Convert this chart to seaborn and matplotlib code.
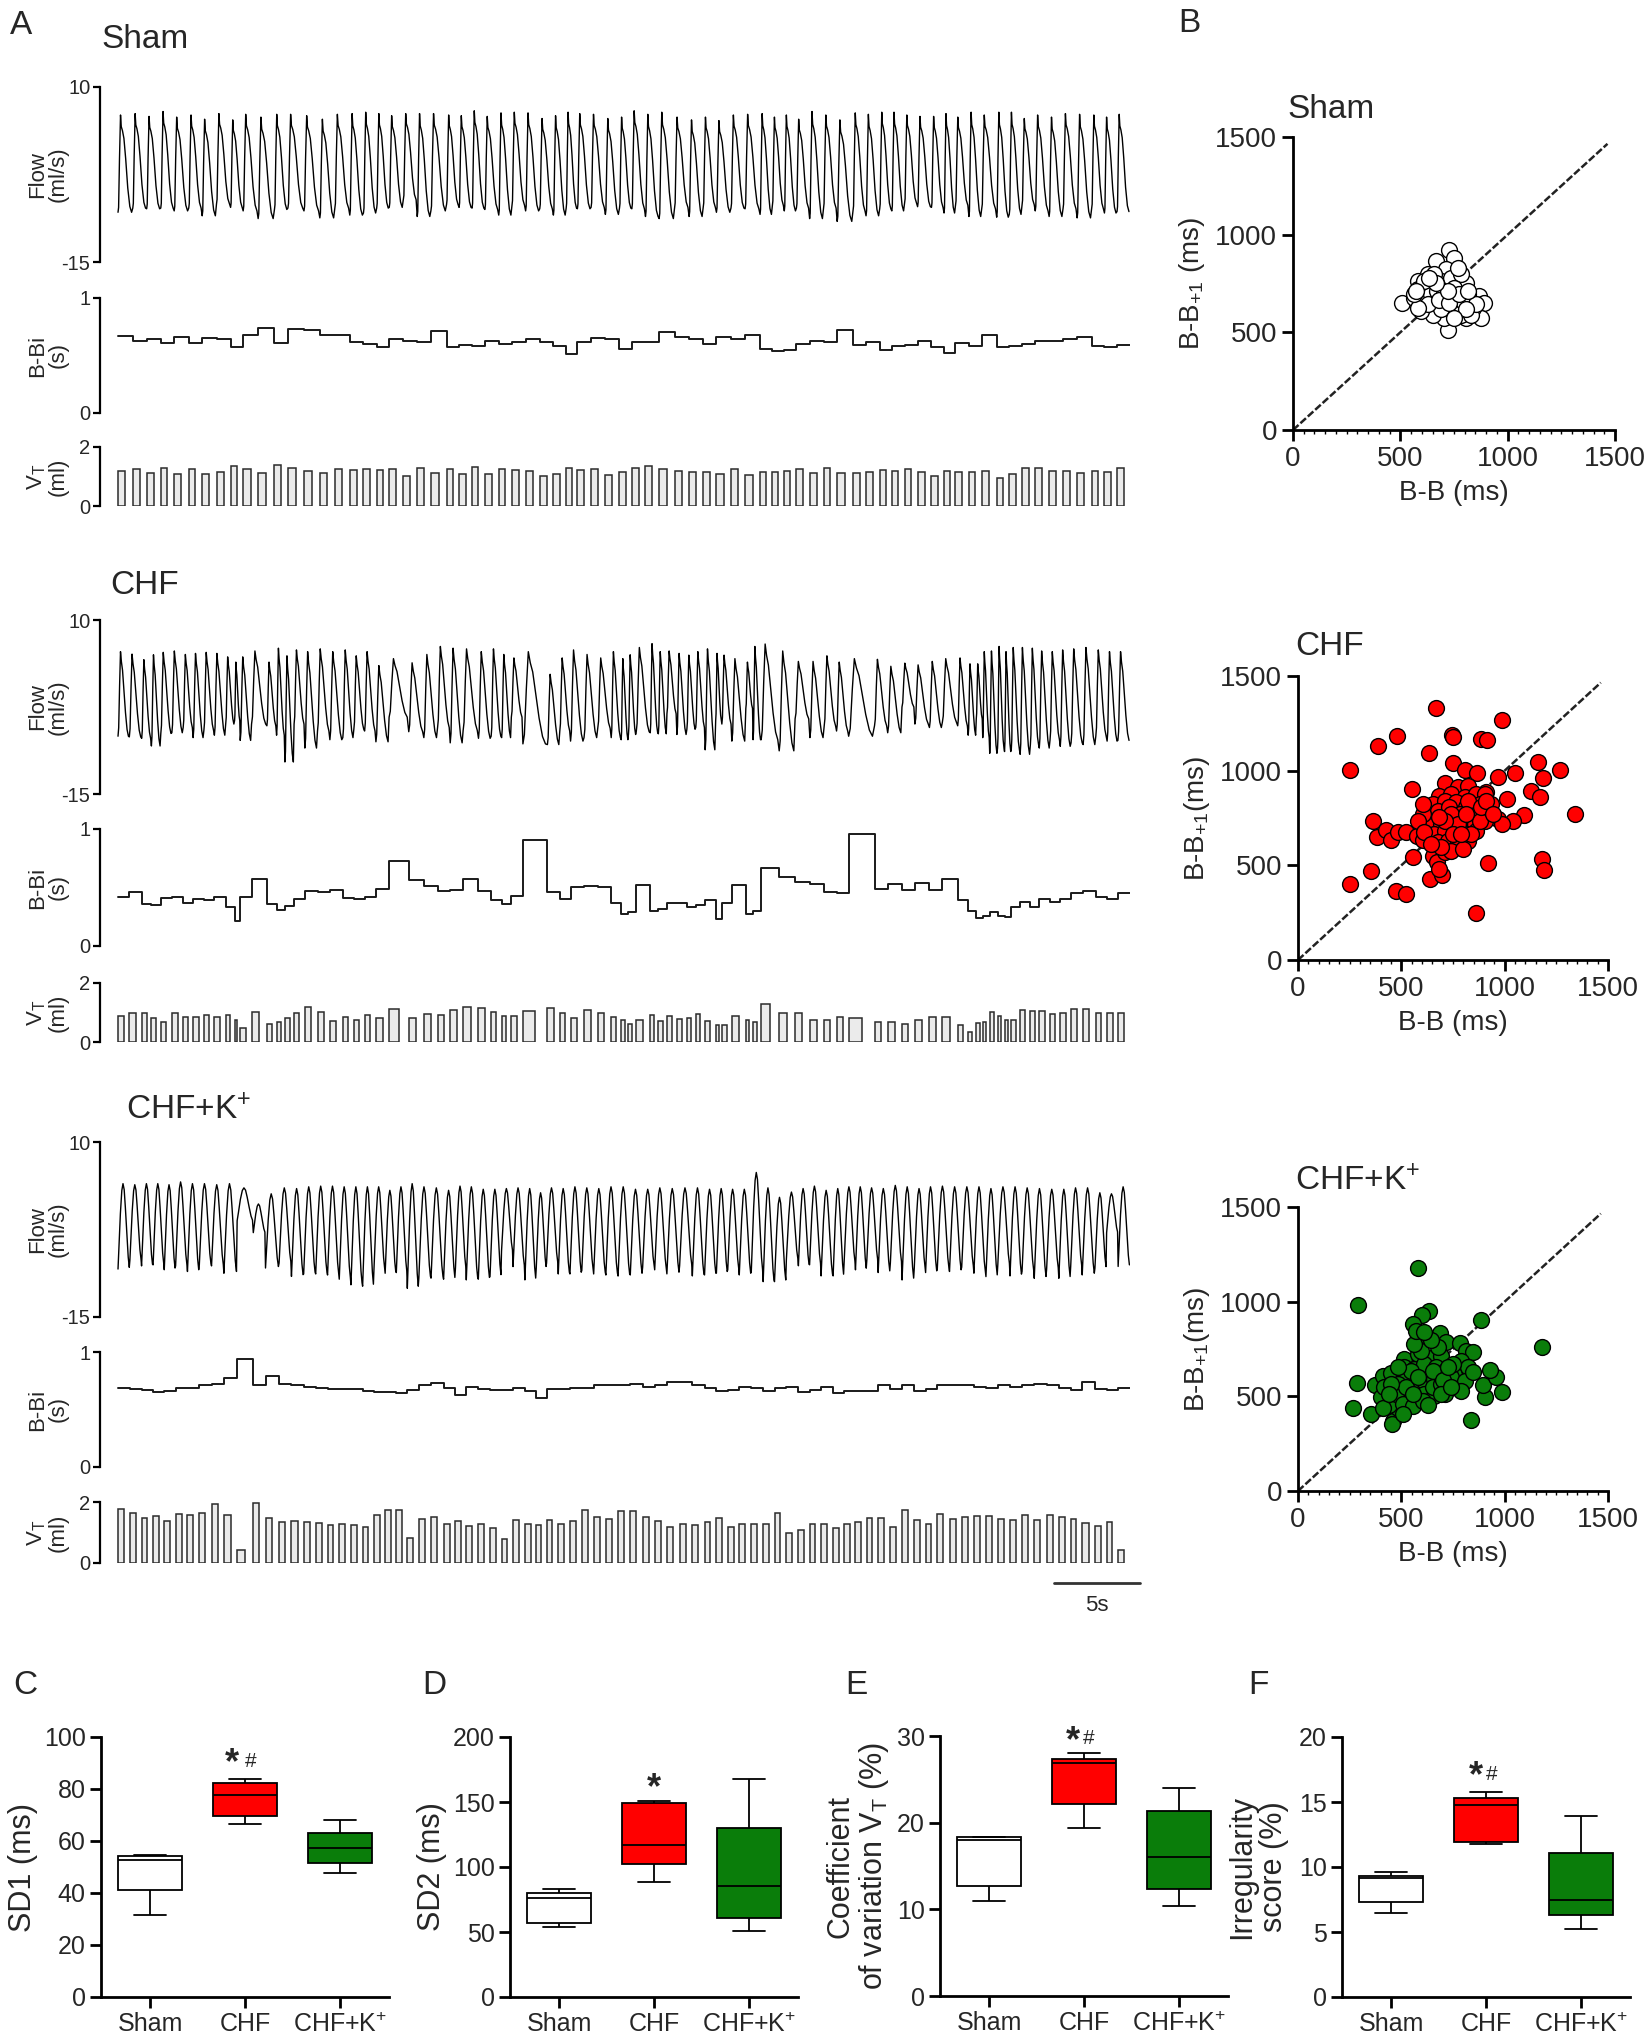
import numpy as np
import pandas as pd
import matplotlib
matplotlib.use('Agg')
import matplotlib.pyplot as plt
import seaborn as sns
from matplotlib.ticker import MultipleLocator

# ---------------- data ----------------
# panel A: breath-by-breath values (B-B interval s, tidal volume ml, flow peak/trough ml/s)
sham_bbi = [0.67, 0.63, 0.64, 0.61, 0.66, 0.61, 0.65, 0.64, 0.57, 0.68, 0.74, 0.61, 0.73, 0.72, 0.68, 0.68, 0.62, 0.60, 0.57, 0.64,
            0.63, 0.62, 0.71, 0.57, 0.59, 0.58, 0.63, 0.60, 0.62, 0.64, 0.62, 0.58, 0.51, 0.62, 0.65, 0.64, 0.56, 0.62,
            0.62, 0.70, 0.66, 0.64, 0.60, 0.66, 0.64, 0.68, 0.56, 0.54, 0.55, 0.60, 0.63, 0.62, 0.72, 0.59, 0.62, 0.55,
            0.58, 0.59, 0.63, 0.57, 0.52, 0.61, 0.58, 0.68, 0.57, 0.58, 0.60, 0.63, 0.63, 0.64, 0.66, 0.58, 0.57, 0.59]
sham_vt = [1.19, 1.24, 1.12, 1.29, 1.08, 1.24, 1.08, 1.15, 1.36, 1.27, 1.12, 1.40, 1.29, 1.19, 1.11, 1.24, 1.23, 1.27, 1.21, 1.25,
           1.02, 1.29, 1.12, 1.24, 1.10, 1.32, 1.10, 1.24, 1.22, 1.18, 1.02, 1.10, 1.28, 1.23, 1.24, 1.06, 1.15, 1.30,
           1.36, 1.27, 1.19, 1.15, 1.15, 1.10, 1.24, 1.04, 1.14, 1.15, 1.19, 1.24, 1.12, 1.29, 1.13, 1.13, 1.15, 1.23,
           1.18, 1.27, 1.15, 1.02, 1.18, 1.15, 1.15, 1.19, 0.95, 1.10, 1.29, 1.28, 1.19, 1.19, 1.12, 1.18, 1.14, 1.28]
sham_peak = [6.0, 6.2, 5.8, 6.5, 5.7, 6.0, 5.4, 6.2, 5.3, 6.1, 5.7, 6.1, 6.1, 5.9, 5.4, 6.1, 6.2, 6.4, 6.2, 5.9,
             6.2, 6.2, 6.2, 6.0, 5.9, 6.6, 5.8, 6.3, 6.4, 6.3, 5.5, 5.9, 6.4, 6.2, 6.1, 5.5, 5.7, 6.6,
             6.1, 6.4, 5.7, 5.3, 5.7, 5.2, 6.0, 6.1, 6.2, 5.7, 6.0, 5.4, 6.5, 6.0, 5.3, 6.3, 6.1, 6.4,
             6.4, 6.0, 5.8, 5.8, 6.2, 5.7, 6.4, 6.0, 6.4, 6.4, 5.5, 6.0, 5.7, 6.2, 6.1, 6.0, 5.7, 6.1]
sham_trough = [-7.9, -7.3, -7.4, -7.3, -7.7, -7.3, -8.4, -6.7, -7.2, -7.7, -8.8, -7.5, -7.3, -7.7, -8.7, -7.3, -8.3, -8.0, -7.3, -7.2,
               -6.1, -8.5, -7.7, -6.8, -7.2, -7.3, -7.5, -8.3, -6.9, -7.7, -7.4, -8.3, -7.3, -7.4, -7.2, -8.2, -7.3, -7.4,
               -8.5, -8.8, -7.2, -8.5, -7.2, -7.9, -7.3, -7.4, -8.2, -6.9, -7.7, -7.3, -8.8, -7.3, -9.2, -7.7, -8.4, -7.4,
               -7.7, -6.6, -7.1, -7.2, -8.0, -6.9, -8.5, -7.4, -8.6, -8.2, -6.8, -7.7, -8.5, -7.4, -8.7, -7.4, -8.0, -7.8]

chf_bbi = [0.42, 0.46, 0.36, 0.35, 0.41, 0.42, 0.37, 0.40, 0.39, 0.42, 0.33, 0.21, 0.42, 0.57, 0.36, 0.31, 0.34, 0.40, 0.47, 0.46,
           0.48, 0.41, 0.40, 0.42, 0.49, 0.73, 0.56, 0.51, 0.47, 0.48, 0.57, 0.47, 0.39, 0.36, 0.43, 0.91, 0.46, 0.40, 0.50, 0.51,
           0.50, 0.37, 0.27, 0.29, 0.52,
           0.30, 0.32, 0.37, 0.37, 0.33, 0.35, 0.39, 0.23, 0.37, 0.52, 0.27, 0.30, 0.67, 0.59, 0.55, 0.53, 0.46, 0.45, 0.96, 0.49,
           0.53, 0.48, 0.54, 0.48, 0.57, 0.39, 0.30, 0.24, 0.26, 0.29, 0.26, 0.25, 0.33, 0.38, 0.33, 0.40, 0.38, 0.40, 0.45, 0.47,
           0.42, 0.40, 0.45]
chf_vt = [0.88, 0.98, 1.00, 0.82, 0.68, 1.00, 0.86, 0.85, 0.91, 0.86, 0.91, 0.74, 0.47, 1.01, 0.62, 0.68, 0.82, 0.99, 1.20, 1.02,
          0.71, 0.86, 0.75, 0.91, 0.80, 1.12, 0.82, 0.96, 0.92, 1.08, 1.18, 1.15, 1.02, 0.87, 0.88, 1.04, 1.16, 0.98, 0.80, 1.08,
          0.98, 0.86, 0.74, 0.60, 0.73,
          0.91, 0.72, 0.87, 0.78, 0.80, 0.94, 0.71, 0.59, 0.56, 0.87, 0.76, 0.68, 1.29, 1.00, 1.00, 0.74, 0.73, 0.85, 0.82, 0.68,
          0.68, 0.61, 0.74, 0.85, 0.85, 0.59, 0.35, 0.65, 0.68, 1.01, 0.87, 0.76, 0.73, 1.08, 1.04, 1.04, 0.96, 0.98, 1.11, 1.11,
          0.99, 0.98, 0.99]
chf_peak = [5.45, 5.1, 4.3, 5.0, 5.35, 5.55, 5.05, 5.2, 5.35, 5.2, 4.7, 3.95, 4.7, 5.55, 3.95, 5.95, 4.85, 5.7, 5.45, 5.85,
            5.45, 5.7, 4.85, 5.45, 3.45, 4.45, 3.85, 5.05, 6.2, 5.95, 5.85, 5.45, 5.85, 5.05, 4.55, 5.45, 2.2, 4.55, 5.7, 5.05,
            4.55, 5.45, 4.45, 5.0, 6.05,
            6.6, 5.45, 5.55, 5.2, 4.95, 5.45, 5.85, 5.2, 4.95, 4.45, 3.95, 6.2, 6.55, 5.55, 4.05, 4.05, 4.85, 3.95, 4.45, 4.35,
            3.35, 3.8, 3.55, 4.05, 4.45, 4.55, 3.7, 3.7, 5.45, 5.55, 6.2, 5.45, 6.05, 6.05, 5.95, 5.55, 5.45, 5.7, 5.85, 6.05,
            5.7, 5.45, 5.45]
chf_trough = [-6.7, -6.8, -7.0, -8.1, -6.3, -6.2, -5.45, -6.9, -5.85, -6.55, -4.95, -4.45, -7.3, -4.95, -5.2, -6.55, -10.4, -4.95, -8.4, -5.95,
              -7.2, -6.9, -5.7, -5.95, -7.5, -3.95, -6.05, -6.9, -5.45, -7.65, -5.85, -7.0, -6.7, -6.9, -3.95, -7.8, -7.9, -5.95, -7.4, -6.9,
              -5.55, -6.9, -7.2, -6.45, -6.05,
              -6.2, -6.35, -3.45, -6.45, -5.7, -5.45, -8.65, -4.45, -4.95, -7.4, -2.7, -7.2, -7.2, -8.8, -4.2, -6.9, -5.2, -5.95, -6.7, -5.2,
              -6.2, -2.5, -4.95, -5.45, -4.7, -5.2, -6.55, -4.2, -6.9, -9.15, -8.4, -8.9, -8.65, -9.3, -7.9, -8.4, -7.2, -8.15, -7.65, -7.9,
              -6.7, -7.4, -7.3]

chfk_bbi = [0.69, 0.68, 0.67, 0.65, 0.66, 0.69, 0.69, 0.71, 0.72, 0.77, 0.94, 0.71, 0.79, 0.72, 0.71, 0.70, 0.69, 0.68, 0.68, 0.68,
            0.66, 0.65, 0.65, 0.64, 0.67, 0.71, 0.73, 0.69, 0.63, 0.70, 0.68, 0.67, 0.67, 0.69, 0.66, 0.60, 0.68, 0.68, 0.69, 0.69,
            0.71, 0.71, 0.71, 0.72, 0.70, 0.71,
            0.74, 0.74, 0.71, 0.69, 0.66, 0.67, 0.70, 0.69, 0.66, 0.69, 0.70, 0.65, 0.67, 0.70, 0.64, 0.66, 0.66, 0.66, 0.71, 0.68,
            0.71, 0.66, 0.68, 0.71, 0.71, 0.71, 0.70, 0.69, 0.71, 0.70, 0.71, 0.72, 0.71, 0.69, 0.67, 0.74, 0.68, 0.67, 0.69]
chfk_vt = [1.78, 1.64, 1.49, 1.54, 1.37, 1.62, 1.58, 1.64, 1.95, 1.58, 0.44, 1.97, 1.49, 1.34, 1.37, 1.34, 1.32, 1.26, 1.29, 1.23,
           1.18, 1.56, 1.73, 1.75, 0.83, 1.45, 1.50, 1.27, 1.38, 1.20, 1.27, 1.16, 0.80, 1.40, 1.27, 1.23, 1.40, 1.29, 1.38, 1.73,
           1.50, 1.43, 1.70,
           1.70, 1.51, 1.38, 1.18, 1.29, 1.26, 1.34, 1.48, 1.18, 1.27, 1.29, 1.29, 1.65, 0.98, 1.07, 1.27, 1.27, 1.16, 1.27, 1.33,
           1.49, 1.49, 1.18, 1.73, 1.40, 1.29, 1.62, 1.44, 1.51, 1.53, 1.53, 1.45, 1.40, 1.56, 1.40, 1.56, 1.51, 1.44, 1.31, 1.20,
           1.34, 0.44]
chfk_peak = [4.05, 3.9, 4.05, 4.05, 3.9, 4.3, 4.05, 4.05, 3.9, 4.05, 3.45, 1.15, 2.6, 3.45, 3.35, 3.6, 3.7, 3.7, 3.6, 3.6,
             3.6, 3.6, 3.1, 3.6, 4.05, 3.6, 3.45, 3.1, 3.7, 3.6, 3.25, 3.25, 3.35, 3.45, 3.35, 2.75, 3.45, 3.35, 3.6, 3.45,
             3.35, 3.6, 3.6,
             3.25, 3.25, 3.45, 3.35, 3.45, 3.45, 3.25, 3.35, 3.25, 3.25, 5.65, 3.45, 2.1, 2.85, 3.35, 3.7, 3.1, 3.35, 3.6, 3.6,
             3.45, 3.35, 3.8, 3.6, 3.35, 3.6, 3.7, 3.6, 3.6, 3.6, 3.35, 3.6, 3.6, 3.45, 3.35, 3.25, 3.25, 3.45, 3.45, 2.75,
             2.6, 3.6]
chfk_trough = [-8.15, -6.9, -7.7, -7.55, -8.25, -7.7, -8.5, -7.55, -7.7, -8.75, -1.25, -2.95, -8.0, -7.3, -9.2, -8.85, -8.85, -9.0, -9.6, -10.4,
               -10.6, -8.15, -8.75, -8.65, -10.9, -9.45, -9.45, -9.6, -8.0, -9.7, -9.6, -9.2, -5.6, -7.8, -9.7, -8.0, -7.3, -8.85, -8.85, -8.35,
               -8.85, -9.0, -9.15,
               -8.99, -7.87, -8.26, -8.84, -7.68, -9.13, -8.99, -8.74, -8.26, -8.99, -8.5, -9.95, -9.95, -6.81, -7.68, -7.54, -9.13, -9.13, -7.2, -8.26,
               -6.91, -8.65, -7.29, -9.71, -8.02, -8.65, -8.16, -8.5, -7.87, -8.74, -9.23, -7.54, -9.13, -8.5, -9.47, -8.16, -9.47, -7.78, -8.99, -8.02,
               -2.95, -7.78]

# panel B: Poincare plots (B-B, B-B+1 in ms)
sham_bb = [510, 580, 627, 666, 725, 751, 712, 580, 639, 673, 712, 736, 767, 806, 822, 868, 892, 876, 806, 720,
           705, 650, 596, 564, 603, 642, 689, 736, 783, 814, 837, 783, 744, 689, 627, 580, 564, 673, 705, 751,
           790, 829, 853, 767, 658, 611, 572, 681, 728, 775, 814, 720, 666, 634, 806, 751]
sham_bb1 = [648, 763, 797, 866, 920, 883, 823, 720, 725, 660, 626, 677, 711, 754, 634, 686, 651, 574, 574, 514,
            574, 591, 608, 677, 660, 694, 763, 780, 797, 694, 626, 591, 600, 617, 643, 626, 694, 711, 694, 728,
            660, 591, 643, 831, 797, 763, 711, 668, 651, 694, 711, 711, 754, 780, 617, 574]

chf_bb = [668, 988, 477, 388, 746, 749, 884, 916, 636, 251, 749, 806, 868, 968, 1049, 1163, 1268, 1187, 550, 908,
          1009, 1127, 1171, 1338, 1095, 1041, 968, 985, 365, 381, 425, 449, 482, 522, 574, 603, 920, 1179, 1192, 652,
          555, 352, 250, 474, 522, 641, 696, 672, 680, 860,
          709, 774, 822, 684, 741, 806, 863, 903, 652, 709, 766, 814, 879, 936, 628, 676, 733, 782, 839, 887,
          636, 693, 749, 806, 855, 903, 660, 709, 766, 814, 863, 676, 725, 774, 822, 709, 741, 798, 693, 603,
          579, 611, 644, 741, 839, 822, 879, 603, 774, 709, 814, 684, 749, 790, 887, 912, 944]
chf_bb1 = [1333, 1269, 1183, 1128, 1186, 1177, 1168, 1163, 1093, 1001, 1040, 1006, 987, 969, 987, 1045, 1001, 962, 904, 886,
           851, 895, 860, 771, 766, 736, 745, 718, 736, 651, 687, 634, 674, 674, 657, 634, 512, 533, 475, 551,
           545, 471, 404, 362, 351, 427, 450, 515, 480, 247,
           934, 912, 921, 868, 877, 860, 877, 877, 824, 842, 833, 807, 824, 824, 771, 789, 807, 771, 789, 771,
           710, 718, 745, 736, 718, 736, 665, 683, 683, 665, 683, 621, 630, 621, 630, 568, 577, 586, 595, 771,
           736, 674, 612, 771, 665, 842, 736, 824, 718, 736, 771, 754, 665, 665, 807, 842, 771]

chfk_bb = [579, 290, 1182, 884, 287, 268, 839, 988, 903, 895, 960, 928, 636, 599, 555, 689, 717, 782, 814, 847,
           352, 373, 409, 449, 462, 454, 485, 441, 401, 409,
           514, 579, 628, 660, 693, 514, 563, 611, 668, 709, 757, 790, 822, 514, 563, 611, 660, 709, 741, 514,
           563, 611, 660, 709, 514, 482, 474, 506, 555, 603, 652, 693, 749, 579, 595, 563, 676, 644, 571, 611,
           547, 482, 522, 417, 449, 806, 847, 790, 506, 555, 652, 701, 579, 628, 441, 693, 725, 741]
chfk_bb1 = [1179, 985, 759, 904, 568, 441, 374, 521, 498, 561, 600, 639, 953, 930, 883, 835, 785, 780, 738, 732,
            409, 561, 609, 623, 371, 353, 441, 454, 494, 441,
            697, 724, 697, 706, 715, 653, 644, 671, 653, 635, 618, 688, 653, 565, 565, 582, 591, 547, 600, 512,
            494, 512, 503, 512, 618, 565, 512, 459, 450, 477, 547, 565, 671, 803, 741, 777, 759, 795, 847, 839,
            635, 653, 547, 547, 565, 582, 627, 530, 406, 512, 635, 586, 600, 454, 512, 512, 653, 547]
identity_max = 1465

# panels C-F: box plot five-number summaries (min, Q1, median, Q3, max)
groups = ['Sham', 'CHF', 'CHF+K']
group_labels = ['Sham', 'CHF', 'CHF+K$^{\\mathregular{+}}$']
sd1_sham = [31.5, 41.3, 52.7, 54.4, 54.8]
sd1_chf = [66.7, 69.5, 77.6, 82.5, 83.7]
sd1_chfk = [47.6, 51.4, 57.2, 63.1, 67.9]
sd2_sham = [54.2, 57.1, 76.1, 79.7, 83.3]
sd2_chf = [88.7, 102.3, 116.7, 149.1, 150.6]
sd2_chfk = [50.4, 60.9, 85.6, 130.1, 167.4]
cv_sham = [11.0, 12.7, 18.0, 18.3, 18.4]
cv_chf = [19.4, 22.1, 26.9, 27.4, 28.0]
cv_chfk = [10.4, 12.4, 16.0, 21.3, 24.0]
irr_sham = [6.45, 7.3, 9.15, 9.3, 9.6]
irr_chf = [11.75, 11.9, 14.8, 15.3, 15.8]
irr_chfk = [5.2, 6.3, 7.5, 11.1, 13.9]

# ---------------- style ----------------
sns.set_style('white')
plt.rcParams['font.family'] = ['Liberation Sans', 'DejaVu Sans']
plt.rcParams['mathtext.fontset'] = 'custom'
plt.rcParams['mathtext.rm'] = 'Liberation Sans'
plt.rcParams['mathtext.it'] = 'Liberation Sans:italic'
plt.rcParams['mathtext.bf'] = 'Liberation Sans:bold'

W, H = 1652, 2038
fig = plt.figure(figsize=(W / 100, H / 100), dpi=100)
fig.patch.set_facecolor('white')


def add_ax(left, top, right, bottom):
    return fig.add_axes([left / W, 1 - bottom / H, (right - left) / W, (bottom - top) / H])


def fig_text(x, y, s, **kw):
    fig.text(x / W, 1 - y / H, s, **kw)


# breath shapes: (fraction of breath, fraction of trough->peak)
shape_sham = [(0.0, 0.0), (0.04, 0.05), (0.10, 0.55), (0.17, 1.0), (0.22, 0.88), (0.30, 0.84),
              (0.40, 0.76), (0.52, 0.55), (0.66, 0.25), (0.80, 0.06), (0.92, 0.0)]
shape_chf = [(0.0, 0.0), (0.06, 0.1), (0.14, 0.6), (0.22, 1.0), (0.30, 0.88), (0.40, 0.78),
             (0.52, 0.55), (0.66, 0.28), (0.80, 0.08), (0.92, 0.0)]
shape_chfk = [(0.0, 0.0), (0.08, 0.25), (0.20, 0.65), (0.32, 0.92), (0.42, 1.0), (0.52, 0.93),
              (0.62, 0.72), (0.74, 0.42), (0.86, 0.14), (0.95, 0.02)]


def build_flow(bbi, peak, trough, shape):
    starts = np.concatenate([[0], np.cumsum(bbi)[:-1]])
    xs, ys = [], []
    for s, d, p, tr in zip(starts, bbi, peak, trough):
        for f, a in shape:
            xs.append(s + f * d)
            ys.append(tr + a * (p - tr))
    return np.array(xs), np.array(ys)


def style_trace(ax, lim, ticks, label, T):
    ax.set_xlim(-0.0178 * T, T)
    ax.set_ylim(*lim)
    for side in ['top', 'right', 'bottom']:
        ax.spines[side].set_visible(False)
    ax.spines['left'].set_linewidth(1.6)
    ax.spines['left'].set_color('black')
    ax.set_xticks([])
    ax.set_yticks(ticks)
    ax.set_yticklabels([str(t) for t in ticks])
    ax.tick_params(axis='y', length=5, width=1.6, labelsize=14.5, pad=2, color='black', left=True)
    ax.set_ylabel(label, fontsize=16, linespacing=1.0)
    ax.yaxis.set_label_coords(-0.03, 0.5)
    ax.patch.set_alpha(0)


traces = [
    ('Sham', sham_bbi, sham_vt, sham_peak, sham_trough, shape_sham, (87, 262), (298, 413), (447, 506), (101, 39)),
    ('CHF', chf_bbi, chf_vt, chf_peak, chf_trough, shape_chf, (620, 794), (829, 946), (983, 1042), (110, 586)),
    ('CHF+K$^{\\mathregular{+}}$', chfk_bbi, chfk_vt, chfk_peak, chfk_trough, shape_chfk, (1142, 1317), (1352, 1467), (1502, 1563), (126, 1111)),
]

for name, bbi, vt, pk, tr, shape, flow_y, bbi_y, vt_y, title_xy in traces:
    n = min(len(bbi), len(vt), len(pk), len(tr))
    bbi, vt, pk, tr = np.array(bbi[:n]), np.array(vt[:n]), np.array(pk[:n]), np.array(tr[:n])
    T = bbi.sum()
    starts = np.concatenate([[0], np.cumsum(bbi)[:-1]])

    ax_f = add_ax(100, flow_y[0], 1130, flow_y[1])
    fx, fy = build_flow(bbi, pk, tr, shape)
    sns.lineplot(x=fx, y=fy, ax=ax_f, color='black', lw=1.0, sort=False, estimator=None)
    style_trace(ax_f, (-15, 10), [-15, 10], 'Flow\n(ml/s)', T)

    ax_b = add_ax(100, bbi_y[0], 1130, bbi_y[1])
    bx = np.concatenate([starts, [T]])
    by = np.concatenate([bbi, [bbi[-1]]])
    sns.lineplot(x=bx, y=by, ax=ax_b, color='#1a1a1a', lw=1.4, sort=False, estimator=None,
                 drawstyle='steps-post')
    style_trace(ax_b, (0, 1), [0, 1], 'B-Bi\n(s)', T)

    ax_v = add_ax(100, vt_y[0], 1130, vt_y[1])
    ax_v.bar(starts, vt, width=0.5 * bbi, align='edge', facecolor='#ebebeb',
             edgecolor='#2b2b2b', linewidth=1.1)
    style_trace(ax_v, (0, 2), [0, 2], 'V$_{\\mathregular{T}}$\n(ml)', T)

    fig_text(title_xy[0], title_xy[1], name, fontsize=24, ha='left', va='center')

    if name.startswith('CHF+K'):
        bar_end = T * 1.01
        ax_v.plot([bar_end - 5, bar_end], [-0.32, -0.32], transform=ax_v.get_xaxis_transform(),
                  color='#333333', lw=2, clip_on=False)
        ax_v.text(bar_end - 2.5, -0.7, '5s', transform=ax_v.get_xaxis_transform(),
                  fontsize=16, ha='center', va='center')

# ---------------- panel B scatter ----------------
scatters = [
    ('Sham', sham_bb, sham_bb1, 'white', (1293, 137, 1615, 430), (1287, 110), 'B-B$_{\\mathregular{+1}}$ (ms)'),
    ('CHF', chf_bb, chf_bb1, '#ff0000', (1298, 676, 1608, 960), (1295, 647), 'B-B$_{\\mathregular{+1}}$(ms)'),
    ('CHF+K$^{\\mathregular{+}}$', chfk_bb, chfk_bb1, '#0a7d0a', (1298, 1207, 1608, 1491), (1295, 1182),
     'B-B$_{\\mathregular{+1}}$(ms)'),
]
for name, xb, yb, col, box, tpos, ylab in scatters:
    ax = add_ax(*box)
    ax.plot([0, identity_max], [0, identity_max], color='#222222', lw=1.8, ls=(0, (3, 1.0)), zorder=1)
    sns.scatterplot(x=xb, y=yb, ax=ax, color=col, edgecolor='black', linewidth=1.0, s=130, zorder=3)
    ax.set_xlim(0, 1500)
    ax.set_ylim(0, 1500)
    ax.set_xticks([0, 500, 1000, 1500])
    ax.set_yticks([0, 500, 1000, 1500])
    ax.xaxis.set_minor_locator(MultipleLocator(50))
    for side in ['top', 'right']:
        ax.spines[side].set_visible(False)
    for side in ['left', 'bottom']:
        ax.spines[side].set_linewidth(2)
        ax.spines[side].set_color('black')
    ax.tick_params(which='major', length=8, width=2, labelsize=20, color='black', bottom=True, left=True)
    ax.tick_params(which='minor', axis='x', length=3, width=1, color='black', bottom=True)
    ax.set_xlabel('B-B (ms)', fontsize=20, labelpad=6)
    ax.set_ylabel(ylab, fontsize=20, labelpad=6)
    ax.patch.set_alpha(0)
    fig_text(tpos[0], tpos[1], name, fontsize=24, ha='left', va='center')

# ---------------- panels C-F box plots ----------------
boxes = [
    (sd1_sham, sd1_chf, sd1_chfk, (101, 1737, 389, 1997), (0, 100), 20, 'SD1 (ms)', -0.22,
     [(0.86, 89.7, '*', 26), (1.06, 90.6, '#', 15)]),
    (sd2_sham, sd2_chf, sd2_chfk, (510, 1737, 798, 1997), (0, 200), 50, 'SD2 (ms)', -0.22,
     [(1.0, 160, '*', 26)]),
    (cv_sham, cv_chf, cv_chfk, (940, 1736, 1228, 1996), (0, 30), 10, 'Coefficient\nof variation V$_{\\mathregular{T}}$ (%)', -0.17,
     [(0.88, 29.3, '*', 26), (1.05, 29.7, '#', 15)]),
    (irr_sham, irr_chf, irr_chfk, (1342, 1737, 1630, 1997), (0, 20), 5, 'Irregularity\nscore (%)', -0.185,
     [(0.89, 16.95, '*', 26), (1.06, 17.15, '#', 15)]),
]
palette = {'Sham': 'white', 'CHF': '#ff0000', 'CHF+K': '#0a7d0a'}
for s_vals, c_vals, k_vals, box, ylim, step, ylab, lab_x, marks in boxes:
    ax = add_ax(*box)
    df = pd.DataFrame({'group': ['Sham'] * len(s_vals) + ['CHF'] * len(c_vals) + ['CHF+K'] * len(k_vals),
                       'value': s_vals + c_vals + k_vals})
    sns.boxplot(data=df, x='group', y='value', hue='group', order=groups, hue_order=groups,
                palette=palette, saturation=1, width=0.68, whis=(0, 100), linecolor='black',
                linewidth=1.3, legend=False, ax=ax)
    ax.set_xlim(-0.52, 2.52)
    ax.set_ylim(*ylim)
    yt = np.arange(ylim[0], ylim[1] + 0.1, step)
    ax.set_yticks(yt)
    ax.set_yticklabels([str(int(v)) for v in yt])
    ax.set_xticks([0, 1, 2])
    ax.set_xticklabels(group_labels)
    for side in ['top', 'right']:
        ax.spines[side].set_visible(False)
    for side in ['left', 'bottom']:
        ax.spines[side].set_linewidth(2)
        ax.spines[side].set_color('black')
    ax.tick_params(length=8, width=2, color='black', bottom=True, left=True, pad=3)
    ax.tick_params(axis='y', labelsize=18)
    ax.tick_params(axis='x', labelsize=18)
    ax.set_xlabel('')
    ax.set_ylabel(ylab, fontsize=22, linespacing=1.05)
    ax.yaxis.set_label_coords(lab_x, 0.5)
    for x, y, s, fs in marks:
        ax.text(x, y, s, fontsize=fs, ha='center', va='center', fontweight='bold' if s == '*' else 'normal')
    ax.patch.set_alpha(0)

# panel letters
for letter, x, y in [('A', 10, 26), ('B', 1178, 23), ('C', 13, 1685), ('D', 422, 1685), ('E', 845, 1685), ('F', 1248, 1685)]:
    fig_text(x, y, letter, fontsize=24, ha='left', va='center')

fig.savefig('out.png', dpi=100, facecolor='white')
